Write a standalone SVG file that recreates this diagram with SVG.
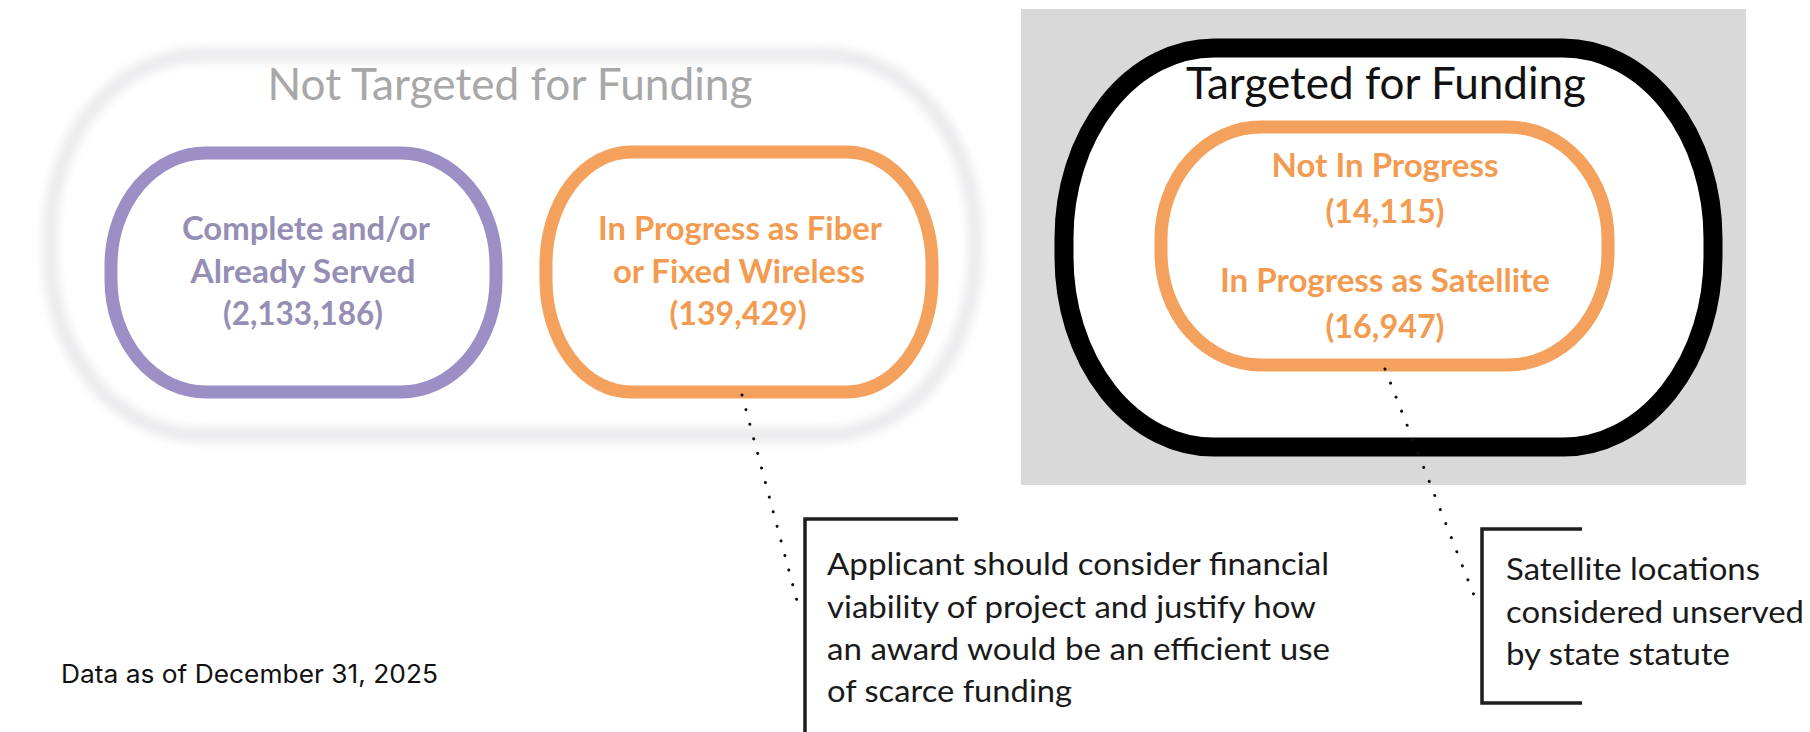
<svg xmlns="http://www.w3.org/2000/svg" width="1810" height="732" viewBox="0 0 1810 732">
  <defs>
    <filter id="soft" x="-10%" y="-10%" width="120%" height="120%">
      <feGaussianBlur stdDeviation="4"/>
    </filter>
    <style>
      .t { font-family: Lato, "Open Sans", "Liberation Sans", sans-serif; }
      .title { font-size: 44px; text-anchor: middle; }
      .node { font-size: 33px; font-weight: bold; text-anchor: middle; }
      .purple { fill: #958fb5; }
      .orange { fill: #f39b50; }
      .note { font-size: 30px; fill: #1a1a1a; }
      .ostroke { fill: none; stroke: #f4a15d; stroke-width: 13; }
      .bracket { fill: none; stroke: #1e1e1e; stroke-width: 3.5; }
      .dots { fill: none; stroke: #111; stroke-width: 3; stroke-linecap: round; stroke-dasharray: 0.1 15; }
    </style>
  </defs>
  <rect width="1810" height="732" fill="#ffffff"/>

  <g id="not-targeted">
    <rect x="50" y="55" width="925" height="380" rx="150" ry="180" fill="none" stroke="#ececee" stroke-width="16" filter="url(#soft)"/>
    <text class="t title" x="510" y="100" fill="#a8a8a8" textLength="485" lengthAdjust="spacingAndGlyphs">Not Targeted for Funding</text>
  </g>

  <g id="complete">
    <rect x="111" y="153" width="385" height="239" rx="95" ry="112" fill="none" stroke="#9b8fc5" stroke-width="13"/>
    <text class="t node purple" x="306" y="240" textLength="248" lengthAdjust="spacingAndGlyphs">Complete and/or</text>
    <text class="t node purple" x="303" y="283" textLength="225" lengthAdjust="spacingAndGlyphs">Already Served</text>
    <text class="t node purple" x="303" y="325" textLength="160" lengthAdjust="spacingAndGlyphs">(2,133,186)</text>
  </g>

  <g id="fiber">
    <rect x="546" y="152" width="386" height="240" rx="85" ry="112" class="ostroke"/>
    <text class="t node orange" x="740" y="240" textLength="284" lengthAdjust="spacingAndGlyphs">In Progress as Fiber</text>
    <text class="t node orange" x="739" y="283" textLength="252" lengthAdjust="spacingAndGlyphs">or Fixed Wireless</text>
    <text class="t node orange" x="738" y="325" textLength="137" lengthAdjust="spacingAndGlyphs">(139,429)</text>
  </g>

  <g id="targeted">
    <rect x="1021" y="9" width="725" height="476" fill="#d9d9d9"/>
    <rect x="1064" y="48" width="649" height="399" rx="150" ry="190" fill="#ffffff" stroke="#000000" stroke-width="19"/>
    <text class="t title" x="1386" y="99" fill="#111111" textLength="400" lengthAdjust="spacingAndGlyphs">Targeted for Funding</text>
  </g>

  <g id="not-in-progress">
    <rect x="1161" y="127" width="447" height="238" rx="100" ry="112" class="ostroke"/>
    <text class="t node orange" x="1385" y="177" textLength="227" lengthAdjust="spacingAndGlyphs">Not In Progress</text>
    <text class="t node orange" x="1385" y="223" textLength="119" lengthAdjust="spacingAndGlyphs">(14,115)</text>
    <text class="t node orange" x="1385" y="292" textLength="330" lengthAdjust="spacingAndGlyphs">In Progress as Satellite</text>
    <text class="t node orange" x="1385" y="338" textLength="119" lengthAdjust="spacingAndGlyphs">(16,947)</text>
  </g>

  <g id="note-viability">
    <path class="bracket" d="M958,519 H805 V732"/>
    <text class="t note" x="827" y="575" textLength="502" lengthAdjust="spacingAndGlyphs">Applicant should consider financial</text>
    <text class="t note" x="827" y="618" textLength="489" lengthAdjust="spacingAndGlyphs">viability of project and justify how</text>
    <text class="t note" x="827" y="660" textLength="503" lengthAdjust="spacingAndGlyphs">an award would be an efficient use</text>
    <text class="t note" x="827" y="702" textLength="245" lengthAdjust="spacingAndGlyphs">of scarce funding</text>
  </g>

  <g id="note-satellite">
    <path class="bracket" d="M1582,529 H1482 V703 H1582"/>
    <text class="t note" x="1506" y="580" textLength="254" lengthAdjust="spacingAndGlyphs">Satellite locations</text>
    <text class="t note" x="1506" y="623" textLength="298" lengthAdjust="spacingAndGlyphs">considered unserved</text>
    <text class="t note" x="1506" y="665" textLength="224" lengthAdjust="spacingAndGlyphs">by state statute</text>
  </g>

  <g id="data-date">
    <text x="61" y="683" font-family="Inter, 'Liberation Sans', sans-serif" font-size="25" fill="#111111" textLength="377" lengthAdjust="spacingAndGlyphs">Data as of December 31, 2025</text>
  </g>

  <g id="connectors">
    <line class="dots" x1="742" y1="395" x2="800" y2="612"/>
    <line class="dots" x1="1385" y1="369" x2="1477" y2="603"/>
  </g>
</svg>
